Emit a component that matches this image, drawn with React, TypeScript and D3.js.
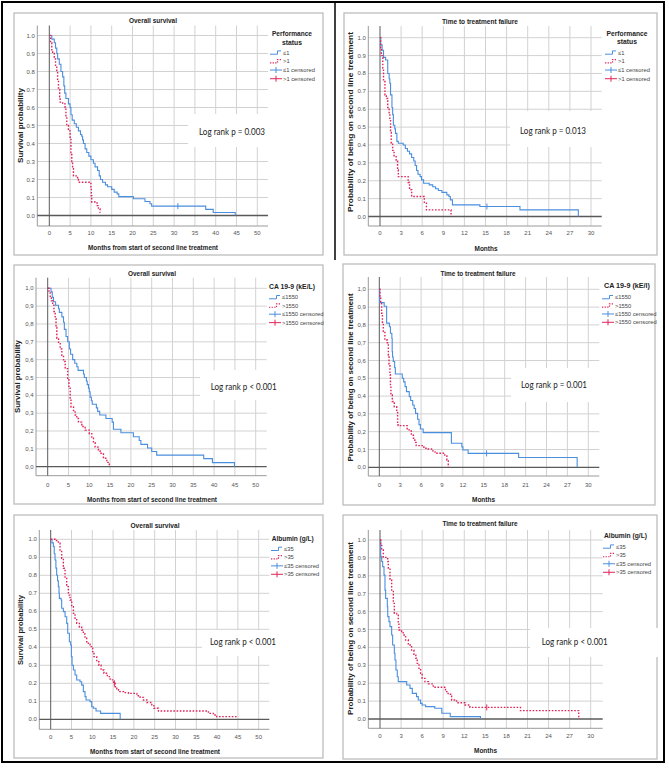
import React from 'react';
import * as d3 from 'd3';

// ---------------- data ----------------
const osXTicks = [0, 5, 10, 15, 20, 25, 30, 35, 40, 45, 50];
const ttfXTicks = [0, 3, 6, 9, 12, 15, 18, 21, 24, 27, 30];
const yTicks = [0, 0.1, 0.2, 0.3, 0.4, 0.5, 0.6, 0.7, 0.8, 0.9, 1.0];

// Overall survival – performance status
const osPsLowTimes = [0.6, 1.2, 1.5, 1.8, 2.0, 2.4, 2.8, 3.2, 3.5, 3.7, 4.0, 4.6, 5.0, 5.2, 5.5, 6.0, 6.5, 7.0, 7.5, 7.8, 8.0, 8.2, 8.6, 9.0, 9.5, 10.0, 10.6, 11.0, 11.6, 12.0, 12.3, 12.8, 13.5, 14.0, 15.0, 15.6, 16.3, 16.7, 20.2, 23.0, 24.2, 24.6, 37.6, 39.4, 44.7];
const osPsLowSurv = [0.98, 0.96, 0.93, 0.90, 0.87, 0.84, 0.80, 0.77, 0.72, 0.68, 0.65, 0.62, 0.60, 0.56, 0.53, 0.51, 0.49, 0.47, 0.45, 0.44, 0.42, 0.40, 0.37, 0.35, 0.33, 0.31, 0.29, 0.27, 0.25, 0.22, 0.20, 0.185, 0.17, 0.16, 0.145, 0.13, 0.12, 0.105, 0.093, 0.078, 0.065, 0.052, 0.034, 0.017, 0.0];
const osPsLowCensored = [30.9];
const osPsLowEnd = 44.7;
const osPsHighTimes = [0.3, 0.6, 0.8, 1.2, 1.5, 1.8, 2.0, 2.2, 2.5, 2.6, 3.2, 3.8, 4.0, 4.2, 4.6, 5.0, 5.2, 5.4, 5.6, 5.8, 6.8, 7.0, 10.0, 10.1, 10.2, 11.0, 11.5, 11.8, 12.2];
const osPsHighSurv = [0.96, 0.92, 0.90, 0.87, 0.83, 0.80, 0.75, 0.70, 0.66, 0.63, 0.62, 0.60, 0.55, 0.50, 0.47, 0.43, 0.35, 0.30, 0.26, 0.22, 0.20, 0.185, 0.15, 0.11, 0.075, 0.07, 0.055, 0.037, 0.018];
const osPsHighCensored: number[] = [];
const osPsHighEnd = 12.3;

// Time to treatment failure – performance status
const ttfPsLowTimes = [0.1, 0.3, 0.5, 0.8, 1.1, 1.3, 1.4, 1.5, 1.7, 1.8, 1.9, 2.1, 2.2, 2.4, 2.6, 3.3, 3.6, 3.9, 4.2, 4.5, 4.8, 5.0, 5.2, 5.4, 5.7, 5.9, 6.2, 7.0, 7.5, 7.9, 8.3, 8.8, 9.5, 9.8, 10.0, 10.3, 14.2, 19.9, 28.2];
const ttfPsLowSurv = [0.96, 0.93, 0.89, 0.875, 0.80, 0.77, 0.745, 0.68, 0.61, 0.57, 0.51, 0.49, 0.465, 0.42, 0.41, 0.40, 0.38, 0.365, 0.35, 0.33, 0.31, 0.285, 0.257, 0.236, 0.223, 0.205, 0.186, 0.177, 0.166, 0.155, 0.145, 0.135, 0.121, 0.112, 0.093, 0.065, 0.056, 0.037, 0.0];
const ttfPsLowCensored = [15.2];
const ttfPsLowEnd = 28.2;
const ttfPsHighTimes = [0.1, 0.2, 0.4, 0.5, 0.7, 0.9, 1.1, 1.3, 1.4, 1.5, 1.6, 1.8, 2.0, 2.3, 2.5, 2.6, 4.0, 4.2, 4.5, 6.3, 6.6, 10.1];
const ttfPsHighSurv = [0.94, 0.90, 0.83, 0.76, 0.68, 0.66, 0.61, 0.58, 0.54, 0.47, 0.41, 0.37, 0.335, 0.31, 0.26, 0.223, 0.19, 0.15, 0.112, 0.075, 0.037, 0.015];
const ttfPsHighCensored: number[] = [];
const ttfPsHighEnd = 10.2;

// Overall survival – CA 19-9
const osCaLowTimes = [0.8, 1.1, 1.4, 1.9, 2.6, 2.8, 3.4, 3.8, 4.0, 4.4, 4.8, 5.2, 5.5, 6.0, 6.5, 7.0, 7.3, 8.6, 8.8, 9.3, 9.5, 9.8, 10.0, 10.2, 10.5, 10.7, 11.7, 12.0, 12.5, 14.0, 15.5, 15.8, 17.6, 20.6, 22.0, 22.4, 24.0, 25.0, 26.2, 37.5, 39.6, 44.9];
const osCaLowSurv = [0.98, 0.95, 0.925, 0.905, 0.885, 0.865, 0.84, 0.81, 0.77, 0.73, 0.70, 0.66, 0.63, 0.60, 0.58, 0.56, 0.54, 0.52, 0.50, 0.48, 0.46, 0.44, 0.42, 0.39, 0.37, 0.35, 0.33, 0.31, 0.29, 0.27, 0.25, 0.21, 0.19, 0.168, 0.147, 0.125, 0.105, 0.085, 0.065, 0.045, 0.023, 0.0];
const osCaLowCensored: number[] = [];
const osCaLowEnd = 44.9;
const osCaHighTimes = [0.3, 0.6, 0.9, 1.2, 1.5, 1.8, 2.0, 2.2, 2.6, 3.0, 3.4, 3.8, 4.2, 4.8, 5.1, 5.4, 5.6, 6.2, 6.6, 7.0, 7.4, 8.2, 9.0, 10.0, 10.6, 11.0, 11.4, 12.2, 12.6, 13.4, 14.2, 14.8];
const osCaHighSurv = [0.98, 0.95, 0.93, 0.905, 0.87, 0.83, 0.78, 0.72, 0.69, 0.66, 0.625, 0.59, 0.55, 0.495, 0.44, 0.385, 0.335, 0.315, 0.29, 0.27, 0.25, 0.225, 0.205, 0.185, 0.16, 0.135, 0.11, 0.093, 0.075, 0.047, 0.024, 0.0];
const osCaHighCensored: number[] = [];
const osCaHighEnd = 14.8;

// Time to treatment failure – CA 19-9
const ttfCaLowTimes = [0.05, 0.7, 1.05, 1.45, 1.6, 1.8, 1.85, 1.9, 2.0, 2.2, 2.3, 3.3, 3.5, 3.7, 3.9, 4.3, 4.5, 4.8, 5.0, 5.2, 5.5, 5.7, 5.9, 6.3, 10.35, 11.85, 12.0, 12.75, 20.0, 28.4];
const ttfCaLowSurv = [0.925, 0.905, 0.81, 0.79, 0.753, 0.725, 0.65, 0.62, 0.594, 0.56, 0.524, 0.50, 0.48, 0.453, 0.425, 0.397, 0.375, 0.35, 0.33, 0.303, 0.27, 0.24, 0.215, 0.195, 0.135, 0.115, 0.097, 0.078, 0.055, 0.0];
const ttfCaLowCensored = [15.4];
const ttfCaLowEnd = 28.4;
const ttfCaHighTimes = [0.1, 0.2, 0.33, 0.45, 0.57, 0.8, 1.15, 1.3, 1.4, 1.53, 1.6, 1.67, 1.87, 2.15, 2.5, 2.63, 2.7, 4.0, 4.4, 4.6, 4.9, 5.1, 5.3, 6.4, 7.0, 7.5, 8.0, 9.4, 9.7, 9.9];
const ttfCaHighSurv = [0.96, 0.93, 0.865, 0.81, 0.762, 0.715, 0.70, 0.63, 0.58, 0.52, 0.46, 0.406, 0.37, 0.34, 0.313, 0.247, 0.234, 0.21, 0.204, 0.18, 0.163, 0.14, 0.122, 0.107, 0.103, 0.092, 0.079, 0.064, 0.041, 0.0];
const ttfCaHighCensored: number[] = [];
const ttfCaHighEnd = 9.9;

// Overall survival – albumin
const osAlbLowTimes = [0.3, 0.64, 0.85, 1.04, 1.25, 1.44, 1.65, 1.84, 2.0, 2.08, 2.5, 2.64, 3.04, 3.45, 3.85, 4.09, 4.49, 4.8, 4.97, 5.13, 5.45, 5.85, 6.25, 7.05, 7.45, 7.85, 8.25, 8.5, 9.45, 9.86, 10.26, 10.9, 12.0, 16.7];
const osAlbLowSurv = [0.98, 0.96, 0.92, 0.885, 0.84, 0.80, 0.77, 0.737, 0.70, 0.672, 0.663, 0.617, 0.598, 0.57, 0.533, 0.478, 0.431, 0.413, 0.348, 0.30, 0.274, 0.246, 0.218, 0.209, 0.19, 0.154, 0.126, 0.107, 0.098, 0.07, 0.061, 0.046, 0.033, 0.0];
const osAlbLowCensored: number[] = [];
const osAlbLowEnd = 16.7;
const osAlbHighTimes = [1.04, 1.84, 2.24, 2.64, 3.04, 3.45, 3.85, 4.25, 4.65, 5.05, 5.45, 5.85, 6.25, 6.9, 7.45, 7.85, 8.25, 8.65, 9.05, 9.45, 10.1, 10.4, 11.06, 11.6, 12.1, 12.8, 13.6, 14.3, 15.1, 15.5, 15.9, 16.3, 17.5, 18.7, 20.7, 21.5, 22.3, 23.1, 24.3, 24.8, 25.9, 37.9, 39.1, 39.9];
const osAlbHighSurv = [0.993, 0.978, 0.94, 0.894, 0.839, 0.783, 0.737, 0.69, 0.663, 0.626, 0.589, 0.561, 0.533, 0.511, 0.496, 0.474, 0.45, 0.431, 0.417, 0.404, 0.376, 0.348, 0.32, 0.30, 0.274, 0.256, 0.237, 0.219, 0.20, 0.181, 0.169, 0.154, 0.148, 0.144, 0.131, 0.122, 0.107, 0.093, 0.08, 0.061, 0.046, 0.033, 0.024, 0.015];
const osAlbHighCensored = [15.3];
const osAlbHighEnd = 44.9;

// Time to treatment failure – albumin
const ttfAlbLowTimes = [0.1, 0.24, 0.38, 0.57, 0.71, 0.8, 1.04, 1.1, 1.28, 1.42, 1.66, 1.8, 2.04, 2.13, 2.27, 2.46, 2.6, 3.8, 4.27, 4.6, 5.2, 5.45, 5.78, 6.0, 6.5, 7.8, 8.8, 10.0, 14.3];
const ttfAlbLowSurv = [0.907, 0.88, 0.851, 0.804, 0.72, 0.674, 0.628, 0.572, 0.544, 0.516, 0.469, 0.413, 0.367, 0.33, 0.274, 0.236, 0.209, 0.19, 0.171, 0.143, 0.125, 0.106, 0.0875, 0.078, 0.069, 0.06, 0.032, 0.013, 0.0];
const ttfAlbLowCensored: number[] = [];
const ttfAlbLowEnd = 14.3;
const ttfAlbHighTimes = [0.1, 0.24, 0.47, 1.09, 1.18, 1.42, 1.66, 1.9, 2.04, 2.37, 2.6, 2.7, 3.08, 3.3, 3.65, 4.03, 4.5, 4.83, 5.1, 5.3, 5.55, 5.78, 6.0, 6.4, 6.9, 7.58, 9.33, 9.7, 10.2, 10.9, 12.1, 12.8, 20.0, 28.3];
const ttfAlbHighSurv = [0.98, 0.944, 0.903, 0.88, 0.842, 0.777, 0.72, 0.646, 0.59, 0.58, 0.534, 0.497, 0.488, 0.469, 0.441, 0.413, 0.385, 0.357, 0.339, 0.311, 0.283, 0.255, 0.227, 0.209, 0.196, 0.177, 0.153, 0.138, 0.106, 0.091, 0.078, 0.065, 0.047, 0.0];
const ttfAlbHighCensored = [15.2];
const ttfAlbHighEnd = 28.3;

const legendPs = ['Performance', 'status'];
const legendCaL = ['CA 19-9 (kE/L)'];
const legendCal = ['CA 19-9 (kE/l)'];
const legendAlb = ['Albumin (g/L)'];
const itemsPs = ['≤1', '>1', '≤1 censored', '>1 censored'];
const itemsCa = ['≤1550', '>1550', '≤1550 censored', '>1550 censored'];
const itemsAlb = ['≤35', '>35', '≤35 censored', '>35 censored'];

const osTitle = 'Overall survival';
const ttfTitle = 'Time to treatment failure';
const osXLabel = 'Months from start of second line treatment';
const ttfXLabel = 'Months';
const osYLabel = 'Survival probability';
const ttfYLabel = 'Probability of being on second line treatment';

// ---------------- styles ----------------
const BLUE = '#4a8ee0';
const RED = '#e0245a';
const SPSS_FONT = 'Liberation Sans, Arial, sans-serif';

type Curve = { times: number[]; surv: number[]; censored: number[]; end: number };

const panels = [
  {
    box: [14, 13, 323, 255], frameLeft: 37.3, gridTop: 25.5, gridRight: 268, frameBottom: 226,
    x0: 49.3, x1: 257.3, y1: 35.5, y0: 215.5, xMax: 50, xTicks: osXTicks, tickY: 234.5, comma: false,
    title: osTitle, titleX: 153, titleY: 22.5, titleLen: 48,
    xLabel: osXLabel, xLabelX: 153, xLabelY: 249.5, xLabelLen: 130,
    yLabel: osYLabel, yLabelX: 20, yLabelY: 125.5, yLabelLen: 75,
    legend: legendPs, legendX: 292, legendY: [35.5, 44.5], legendLen: [40, 20],
    items: itemsPs, iconX: 270, itemY0: 52.7, itemStep: 8.67,
    p: 'Log rank p = 0.003', pBox: [188, 114, 270, 147], pX: 199, pY: 134.7,
    blue: { times: osPsLowTimes, surv: osPsLowSurv, censored: osPsLowCensored, end: osPsLowEnd },
    red: { times: osPsHighTimes, surv: osPsHighSurv, censored: osPsHighCensored, end: osPsHighEnd },
  },
  {
    box: [344, 13, 657, 255], frameLeft: 368.3, gridTop: 26, gridRight: 601.7, frameBottom: 226,
    x0: 380, x1: 591, y1: 37.7, y0: 216.5, xMax: 30, xTicks: ttfXTicks, tickY: 234.5, comma: false,
    title: ttfTitle, titleX: 480, titleY: 24, titleLen: 76,
    xLabel: ttfXLabel, xLabelX: 486, xLabelY: 250.8, xLabelLen: 23,
    yLabel: ttfYLabel, yLabelX: 350, yLabelY: 122, yLabelLen: 180,
    legend: legendPs, legendX: 627, legendY: [35.8, 44.2], legendLen: [41, 20],
    items: itemsPs, iconX: 605, itemY0: 52.7, itemStep: 8.67,
    p: 'Log rank p = 0.013', pBox: [510, 111, 603, 147], pX: 520, pY: 134,
    blue: { times: ttfPsLowTimes, surv: ttfPsLowSurv, censored: ttfPsLowCensored, end: ttfPsLowEnd },
    red: { times: ttfPsHighTimes, surv: ttfPsHighSurv, censored: ttfPsHighCensored, end: ttfPsHighEnd },
  },
  {
    box: [14, 265, 323, 504], frameLeft: 36, gridTop: 277.7, gridRight: 266.7, frameBottom: 475.7,
    x0: 47.7, x1: 255.7, y1: 288.3, y0: 466.7, xMax: 50, xTicks: osXTicks, tickY: 486.5, comma: true,
    title: osTitle, titleX: 152, titleY: 275.8, titleLen: 48,
    xLabel: osXLabel, xLabelX: 152, xLabelY: 501.5, xLabelLen: 130,
    yLabel: osYLabel, yLabelX: 17.5, yLabelY: 376.5, yLabelLen: 73,
    legend: legendCaL, legendX: 292, legendY: [289.2], legendLen: [46],
    items: itemsCa, iconX: 269, itemY0: 297.3, itemStep: 8.45,
    p: 'Log rank p < 0.001', pBox: [200, 370, 272, 400], pX: 210.7, pY: 389.7,
    blue: { times: osCaLowTimes, surv: osCaLowSurv, censored: osCaLowCensored, end: osCaLowEnd },
    red: { times: osCaHighTimes, surv: osCaHighSurv, censored: osCaHighCensored, end: osCaHighEnd },
  },
  {
    box: [343, 264, 655, 505], frameLeft: 368.3, gridTop: 277, gridRight: 599.3, frameBottom: 476,
    x0: 379.3, x1: 588.3, y1: 289.3, y0: 467.3, xMax: 30, xTicks: ttfXTicks, tickY: 486.5, comma: true,
    title: ttfTitle, titleX: 478, titleY: 275.5, titleLen: 75,
    xLabel: ttfXLabel, xLabelX: 483.5, xLabelY: 501.5, xLabelLen: 23,
    yLabel: ttfYLabel, yLabelX: 350, yLabelY: 377.5, yLabelLen: 168,
    legend: legendCal, legendX: 627, legendY: [287.5], legendLen: [46],
    items: itemsCa, iconX: 602, itemY0: 297.3, itemStep: 8.33,
    p: 'Log rank p = 0.001', pBox: [511, 368, 601, 402], pX: 521, pY: 388,
    blue: { times: ttfCaLowTimes, surv: ttfCaLowSurv, censored: ttfCaLowCensored, end: ttfCaLowEnd },
    red: { times: ttfCaHighTimes, surv: ttfCaHighSurv, censored: ttfCaHighCensored, end: ttfCaHighEnd },
  },
  {
    box: [14, 515, 323, 758], frameLeft: 39.3, gridTop: 530, gridRight: 269.3, frameBottom: 729.3,
    x0: 50.7, x1: 258.7, y1: 539.3, y0: 719.3, xMax: 50, xTicks: osXTicks, tickY: 738.9, comma: false,
    title: osTitle, titleX: 155, titleY: 527.5, titleLen: 49,
    xLabel: osXLabel, xLabelX: 155, xLabelY: 754, xLabelLen: 130,
    yLabel: osYLabel, yLabelX: 20.7, yLabelY: 630, yLabelLen: 70,
    legend: legendAlb, legendX: 292.7, legendY: [540.8], legendLen: [42],
    items: itemsAlb, iconX: 271, itemY0: 549, itemStep: 8.43,
    p: 'Log rank p < 0.001', pBox: [202, 630, 277, 656], pX: 210, pY: 645.3,
    blue: { times: osAlbLowTimes, surv: osAlbLowSurv, censored: osAlbLowCensored, end: osAlbLowEnd },
    red: { times: osAlbHighTimes, surv: osAlbHighSurv, censored: osAlbHighCensored, end: osAlbHighEnd },
  },
  {
    box: [343, 515, 657, 759], frameLeft: 368.3, gridTop: 530, gridRight: 602.7, frameBottom: 728.3,
    x0: 380, x1: 590.7, y1: 540, y0: 719, xMax: 30, xTicks: ttfXTicks, tickY: 738.2, comma: false,
    title: ttfTitle, titleX: 480, titleY: 525.8, titleLen: 75,
    xLabel: ttfXLabel, xLabelX: 485.5, xLabelY: 753.2, xLabelLen: 23,
    yLabel: ttfYLabel, yLabelX: 350, yLabelY: 628.5, yLabelLen: 173,
    legend: legendAlb, legendX: 625.5, legendY: [537.5], legendLen: [43],
    items: itemsAlb, iconX: 603, itemY0: 546.7, itemStep: 8.53,
    p: 'Log rank p < 0.001', pBox: [530, 628, 660, 657], pX: 541.7, pY: 645.3,
    blue: { times: ttfAlbLowTimes, surv: ttfAlbLowSurv, censored: ttfAlbLowCensored, end: ttfAlbLowEnd },
    red: { times: ttfAlbHighTimes, surv: ttfAlbHighSurv, censored: ttfAlbHighCensored, end: ttfAlbHighEnd },
  },
];

function survAt(c: Curve, t: number) {
  let s = 1;
  c.times.forEach((ti, i) => { if (ti <= t) s = c.surv[i]; });
  return s;
}

function Panel({ cfg }: { cfg: any }) {
  const x = d3.scaleLinear().domain([0, cfg.xMax]).range([cfg.x0, cfg.x1]);
  const y = d3.scaleLinear().domain([0, 1]).range([cfg.y0, cfg.y1]);
  const line = d3.line<[number, number]>().x(d => x(d[0])).y(d => y(d[1])).curve(d3.curveStepAfter);
  const pts = (c: Curve): [number, number][] => {
    const p: [number, number][] = [[0, 1]];
    c.times.forEach((t, i) => p.push([t, c.surv[i]]));
    if (c.end > c.times[c.times.length - 1]) p.push([c.end, c.surv[c.surv.length - 1]]);
    return p;
  };
  const fmt = (v: number) => { const s = v.toFixed(1); return cfg.comma ? s.replace('.', ',') : s; };
  const [bx0, by0, bx1, by1] = cfg.box;
  const [px0, py0, px1, py1] = cfg.pBox;
  const curves: [Curve, string, boolean][] = [[cfg.blue, BLUE, false], [cfg.red, RED, true]];
  return (
    <g fontFamily={SPSS_FONT}>
      <rect x={bx0} y={by0} width={bx1 - bx0} height={by1 - by0} fill="#fff" stroke="#bdbdbd" strokeWidth={1.3} />
      {/* grid */}
      {cfg.xTicks.filter((t: number) => t > 0).map((t: number) => (
        <line key={'vx' + t} x1={x(t)} x2={x(t)} y1={cfg.gridTop} y2={cfg.frameBottom} stroke="#d2d2d2" strokeWidth={1} />
      ))}
      {yTicks.filter(t => t > 0).map(t => (
        <line key={'hy' + t} x1={cfg.frameLeft} x2={cfg.gridRight} y1={y(t)} y2={y(t)} stroke="#d2d2d2" strokeWidth={1} />
      ))}
      <rect x={px0} y={py0} width={px1 - px0} height={py1 - py0} fill="#fff" />
      {/* frame and axes */}
      <line x1={cfg.frameLeft} x2={cfg.frameLeft} y1={cfg.gridTop} y2={cfg.frameBottom} stroke="#9a9a9a" strokeWidth={1} />
      <line x1={cfg.frameLeft} x2={cfg.gridRight} y1={cfg.frameBottom} y2={cfg.frameBottom} stroke="#9a9a9a" strokeWidth={1} />
      <line x1={x(0)} x2={x(0)} y1={cfg.gridTop} y2={cfg.frameBottom} stroke="#5a5a5a" strokeWidth={1} />
      <line x1={cfg.frameLeft} x2={cfg.gridRight} y1={y(0)} y2={y(0)} stroke="#5a5a5a" strokeWidth={1.3} />
      {/* tick labels */}
      {yTicks.map(t => (
        <text key={'yl' + t} x={cfg.frameLeft - 2.5} y={y(t) + 2} fontSize={6} fill="#555" textAnchor="end">{fmt(t)}</text>
      ))}
      {cfg.xTicks.map((t: number) => (
        <text key={'xl' + t} x={x(t)} y={cfg.tickY} fontSize={6} fill="#555" textAnchor="middle">{t}</text>
      ))}
      {/* titles */}
      <text x={cfg.titleX} y={cfg.titleY} fontSize={7} fontWeight="bold" fill="#222" textAnchor="middle"
        textLength={cfg.titleLen} lengthAdjust="spacingAndGlyphs">{cfg.title}</text>
      <text x={cfg.xLabelX} y={cfg.xLabelY} fontSize={7.2} fontWeight="bold" fill="#222" textAnchor="middle"
        textLength={cfg.xLabelLen} lengthAdjust="spacingAndGlyphs">{cfg.xLabel}</text>
      <text transform={`translate(${cfg.yLabelX + 2.6},${cfg.yLabelY}) rotate(-90)`} fontSize={7.6} fontWeight="bold" fill="#222"
        textAnchor="middle" textLength={cfg.yLabelLen} lengthAdjust="spacingAndGlyphs">{cfg.yLabel}</text>
      {/* legend */}
      {cfg.legend.map((l: string, i: number) => (
        <text key={'lt' + i} x={cfg.legendX} y={cfg.legendY[i]} fontSize={7.2} fontWeight="bold" fill="#222" textAnchor="middle"
          textLength={cfg.legendLen[i]} lengthAdjust="spacingAndGlyphs">{l}</text>
      ))}
      {cfg.items.map((l: string, i: number) => {
        const iy = cfg.itemY0 + i * cfg.itemStep;
        const ix = cfg.iconX;
        const col = i % 2 === 0 ? BLUE : RED;
        return (
          <g key={'it' + i}>
            {i < 2 ? (
              <path d={`M${ix},${iy + 1.5}H${ix + 7.5}V${iy - 1.8}H${ix + 11}`} fill="none" stroke={col}
                strokeWidth={i === 1 ? 1.2 : 1} strokeDasharray={i === 1 ? '1.3 1.3' : undefined} />
            ) : (
              <g stroke={col} strokeWidth={1}>
                <line x1={ix} x2={ix + 12} y1={iy} y2={iy} />
                <line x1={ix + 6} x2={ix + 6} y1={iy - 3} y2={iy + 3} />
              </g>
            )}
            <text x={ix + 13} y={iy + 2} fontSize={5.8} fill="#444">{l}</text>
          </g>
        );
      })}
      {/* p value */}
      <text x={cfg.pX} y={cfg.pY} fontFamily="Lato, 'Open Sans', sans-serif" fontSize={9} fill="#222"
        textLength={66} lengthAdjust="spacingAndGlyphs">{cfg.p}</text>
      {/* curves */}
      {curves.map(([c, col, dotted], k) => (
        <g key={'c' + k}>
          <path d={line(pts(c)) || ''} fill="none" stroke={col} strokeWidth={dotted ? 1.4 : 1.1}
            strokeDasharray={dotted ? '1.6 1.6' : undefined} />
          {c.censored.map((t, j) => (
            <line key={j} x1={x(t)} x2={x(t)} y1={y(survAt(c, t)) - 3} y2={y(survAt(c, t)) + 3} stroke={col} strokeWidth={1} />
          ))}
        </g>
      ))}
    </g>
  );
}

export default function App() {
  return (
    <svg width={669} height={771} style={{ position: 'absolute', left: 0, top: 0, display: 'block', background: '#fff' }}>
      <rect x={0} y={0} width={669} height={771} fill="#fff" />
      {panels.map((p, i) => <Panel key={i} cfg={p} />)}
      <rect x={2} y={2} width={662} height={760} fill="none" stroke="#000" strokeWidth={2} />
      <line x1={335} x2={335} y1={2} y2={260} stroke="#000" strokeWidth={1.5} />
    </svg>
  );
}
